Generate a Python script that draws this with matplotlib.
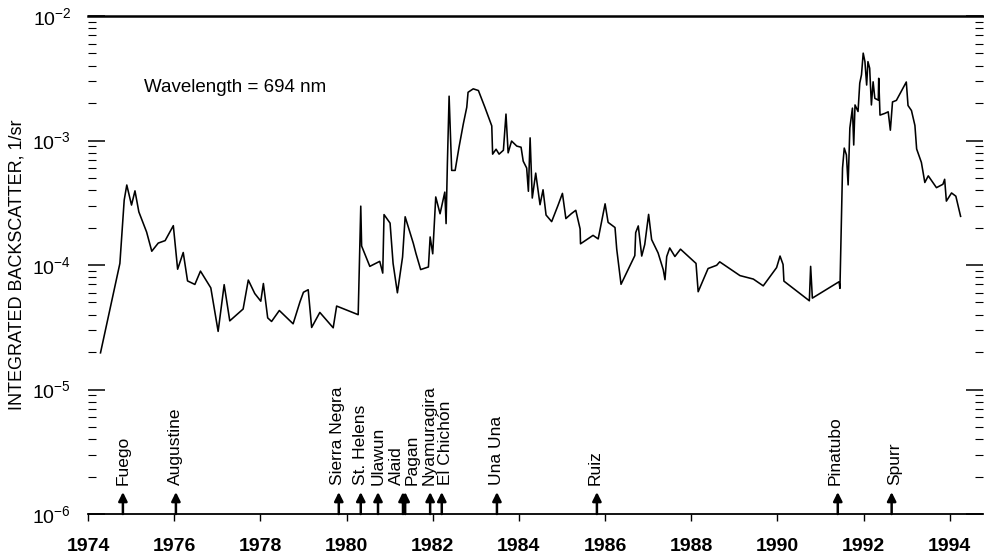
import numpy as np
import matplotlib
matplotlib.use("Agg")
import matplotlib.pyplot as plt
from matplotlib.ticker import LogLocator, NullFormatter

plt.rcParams['font.family'] = ['Liberation Sans', 'DejaVu Sans']
plt.rcParams['mathtext.default'] = 'regular'

# Integrated backscatter record
years = [1974.29, 1974.74, 1974.84, 1974.90, 1975.01, 1975.09, 1975.18, 1975.36, 1975.48, 1975.63,
         1975.79, 1975.98, 1976.08, 1976.21, 1976.31, 1976.48, 1976.61, 1976.85, 1977.02, 1977.16,
         1977.29, 1977.60, 1977.72, 1977.87, 1978.01, 1978.07, 1978.17, 1978.26, 1978.44, 1978.76,
         1978.92, 1979.00, 1979.11, 1979.19, 1979.38, 1979.69, 1979.77, 1980.27, 1980.33, 1980.35,
         1980.48, 1980.54, 1980.77, 1980.84, 1980.87, 1981.01, 1981.08, 1981.18, 1981.30, 1981.36,
         1981.55, 1981.61, 1981.72, 1981.90, 1981.94, 1982.00, 1982.07, 1982.17, 1982.28, 1982.31,
         1982.34, 1982.38, 1982.44, 1982.52, 1982.61, 1982.71, 1982.79, 1982.82, 1982.94, 1983.06,
         1983.21, 1983.37, 1983.39, 1983.47, 1983.54, 1983.64, 1983.70, 1983.75, 1983.83, 1983.95,
         1984.05, 1984.10, 1984.18, 1984.22, 1984.26, 1984.31, 1984.39, 1984.49, 1984.56, 1984.63,
         1984.76, 1984.91, 1985.01, 1985.09, 1985.22, 1985.32, 1985.42, 1985.43, 1985.72, 1985.84,
         1986.00, 1986.07, 1986.23, 1986.27, 1986.37, 1986.50, 1986.69, 1986.71, 1986.77, 1986.85,
         1986.92, 1987.01, 1987.08, 1987.23, 1987.35, 1987.39, 1987.43, 1987.50, 1987.62, 1987.75,
         1988.11, 1988.16, 1988.39, 1988.59, 1988.66, 1989.13, 1989.44, 1989.67, 1989.98, 1990.06,
         1990.13, 1990.15, 1990.74, 1990.77, 1990.81, 1991.43, 1991.45, 1991.49, 1991.51, 1991.55,
         1991.60, 1991.64, 1991.68, 1991.74, 1991.77, 1991.80, 1991.87, 1991.91, 1991.95, 1991.99,
         1992.03, 1992.07, 1992.10, 1992.14, 1992.18, 1992.22, 1992.26, 1992.34, 1992.35, 1992.38,
         1992.49, 1992.57, 1992.62, 1992.67, 1992.76, 1992.99, 1993.03, 1993.11, 1993.19, 1993.23,
         1993.34, 1993.42, 1993.50, 1993.69, 1993.84, 1993.88, 1993.92, 1994.04, 1994.14, 1994.25]

backscatter = [1.97e-5, 1.03e-4, 3.32e-4, 4.39e-4, 3.03e-4, 3.94e-4, 2.67e-4, 1.84e-4, 1.29e-4, 1.50e-4,
               1.57e-4, 2.07e-4, 9.25e-5, 1.26e-4, 7.45e-5, 6.98e-5, 8.93e-5, 6.55e-5, 2.93e-5, 6.95e-5,
               3.56e-5, 4.43e-5, 7.57e-5, 5.90e-5, 5.12e-5, 7.10e-5, 3.76e-5, 3.52e-5, 4.31e-5, 3.37e-5,
               5.07e-5, 6.04e-5, 6.33e-5, 3.15e-5, 4.16e-5, 3.13e-5, 4.68e-5, 3.99e-5, 2.97e-4, 1.42e-4,
               1.10e-4, 9.75e-5, 1.07e-4, 8.61e-5, 2.54e-4, 2.17e-4, 1.03e-4, 5.98e-5, 1.16e-4, 2.44e-4,
               1.49e-4, 1.24e-4, 9.19e-5, 9.64e-5, 1.68e-4, 1.23e-4, 3.52e-4, 2.58e-4, 3.85e-4, 2.15e-4,
               6.52e-4, 2.27e-3, 5.75e-4, 5.75e-4, 8.83e-4, 1.36e-3, 1.85e-3, 2.44e-3, 2.60e-3, 2.52e-3,
               1.85e-3, 1.31e-3, 7.77e-4, 8.51e-4, 7.77e-4, 8.35e-4, 1.63e-3, 7.96e-4, 9.90e-4, 9.02e-4,
               8.83e-4, 6.82e-4, 6.01e-4, 3.91e-4, 1.05e-3, 3.45e-4, 5.47e-4, 3.05e-4, 4.02e-4, 2.52e-4,
               2.23e-4, 3.03e-4, 3.76e-4, 2.36e-4, 2.59e-4, 2.75e-4, 1.95e-4, 1.48e-4, 1.73e-4, 1.62e-4,
               3.10e-4, 2.20e-4, 2.00e-4, 1.34e-4, 7.00e-5, 8.69e-5, 1.19e-4, 1.82e-4, 2.06e-4, 1.18e-4,
               1.46e-4, 2.55e-4, 1.60e-4, 1.25e-4, 9.16e-5, 7.62e-5, 1.17e-4, 1.37e-4, 1.17e-4, 1.34e-4,
               1.03e-4, 6.10e-5, 9.37e-5, 9.95e-5, 1.06e-4, 8.22e-5, 7.71e-5, 6.80e-5, 9.53e-5, 1.18e-4,
               1.01e-4, 7.42e-5, 5.16e-5, 9.75e-5, 5.42e-5, 7.34e-5, 6.49e-5, 2.69e-4, 6.00e-4, 8.69e-4,
               7.67e-4, 4.40e-4, 1.26e-3, 1.82e-3, 9.20e-4, 1.93e-3, 1.71e-3, 2.89e-3, 3.37e-3, 5.03e-3,
               4.30e-3, 2.79e-3, 4.30e-3, 3.81e-3, 1.93e-3, 2.96e-3, 2.18e-3, 2.11e-3, 3.16e-3, 1.60e-3,
               1.65e-3, 1.70e-3, 1.21e-3, 2.04e-3, 2.10e-3, 2.95e-3, 1.91e-3, 1.74e-3, 1.32e-3, 8.55e-4,
               6.67e-4, 4.60e-4, 5.20e-4, 4.18e-4, 4.45e-4, 4.88e-4, 3.26e-4, 3.79e-4, 3.57e-4, 2.46e-4]

# Volcanic eruptions marked along the bottom
volcanoes = ['Fuego', 'Augustine', 'Sierra Negra', 'St. Helens', 'Ulawun', 'Alaid', 'Pagan',
             'Nyamuragira', 'El Chichón', 'Una Una', 'Ruiz', 'Pinatubo', 'Spurr']
eruption_dates = [1974.81, 1976.04, 1979.82, 1980.33, 1980.73, 1981.31, 1981.36,
                  1981.94, 1982.21, 1983.49, 1985.81, 1991.40, 1992.65]
label_nudge = [0, 0, -1, 0, 0, -5, 5, -1, 3, 0, -1, -2, 2]  # points, to keep close labels apart

year_ticks = list(range(1974, 1995, 2))
decade_ticks = [1e-6, 1e-5, 1e-4, 1e-3, 1e-2]
decade_labels = ['$10^{-6}$', '$10^{-5}$', '$10^{-4}$', '$10^{-3}$', '$10^{-2}$']

narrow = ['Liberation Sans Narrow', 'Liberation Sans', 'DejaVu Sans']

fig = plt.figure(figsize=(9.84, 5.59), dpi=100)
ax = fig.add_axes([88 / 984, 45 / 559, 895 / 984, 498 / 559])

ax.semilogy(years, backscatter, color='black', lw=1.15)
ax.set_xlim(1974, 1994.77)
ax.set_ylim(1e-6, 1e-2)

for side in ['left', 'right']:
    ax.spines[side].set_visible(False)
ax.spines['top'].set_linewidth(1.8)
ax.spines['bottom'].set_linewidth(1.3)

ax.set_yticks(decade_ticks)
ax.set_yticklabels(decade_labels, family=narrow, fontsize=14)
ax.yaxis.set_minor_locator(LogLocator(base=10, subs=np.arange(2, 10)))
ax.yaxis.set_minor_formatter(NullFormatter())
ax.tick_params(axis='y', which='major', direction='in', length=12, width=1.1,
               left=True, right=True, pad=12)
ax.tick_params(axis='y', which='minor', direction='in', length=6, width=0.8,
               left=True, right=True)

ax.set_xticks(year_ticks)
ax.set_xticklabels([str(y) for y in year_ticks], family=narrow, fontsize=14, fontweight='bold')
ax.tick_params(axis='x', which='major', direction='out', length=5, width=1, pad=12)

ax.set_ylabel('INTEGRATED BACKSCATTER, 1/sr', fontsize=13)
ax.yaxis.set_label_coords(-0.07, 0.5)

ax.text(0.0626, 0.856, 'Wavelength = 694 nm', transform=ax.transAxes,
        fontsize=13.5, va='center', ha='left')

for name, date, nudge in zip(volcanoes, eruption_dates, label_nudge):
    ax.annotate('', xy=(date, 1.5e-6), xytext=(date, 1e-6),
                arrowprops=dict(arrowstyle='-|>', color='black', lw=1.8,
                                mutation_scale=13, shrinkA=0, shrinkB=0),
                annotation_clip=False)
    ax.annotate(name, xy=(date, 1.7e-6), xytext=(nudge, 0), textcoords='offset points',
                rotation=90, ha='center', va='bottom', fontsize=12.5)

fig.savefig('out.png', dpi=100)
